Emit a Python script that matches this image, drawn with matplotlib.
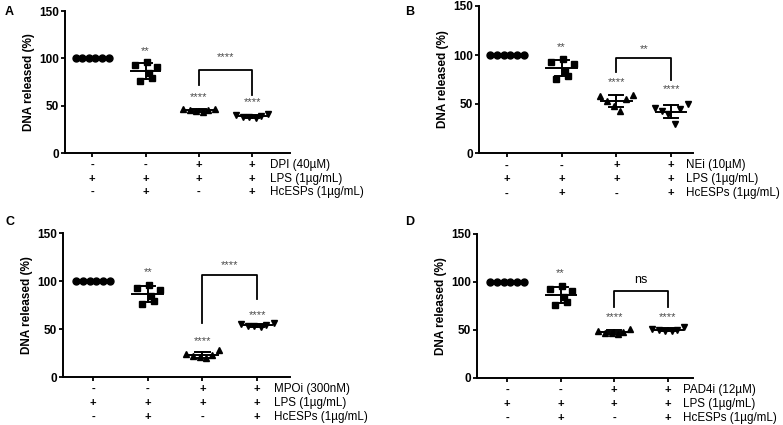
import numpy as np
import matplotlib
matplotlib.use("Agg")
import matplotlib.pyplot as plt
from matplotlib.transforms import blended_transform_factory

plt.rcParams['font.family'] = ['Liberation Sans', 'DejaVu Sans']

# ---- data ----
panels = ["A", "B", "C", "D"]
inhibitors = ["DPI (40µM)", "NEi (10µM)", "MPOi (300nM)", "PAD4i (12µM)"]
row_names = ["LPS (1µg/mL)", "HcESPs (1µg/mL)"]
inhib_signs = ["-", "-", "+", "+"]
lps_signs = ["+", "+", "+", "+"]
esp_signs = ["-", "+", "-", "+"]

ctrl = [100, 100, 100, 100, 100, 100]
esp = [96, 93, 91, 84, 79, 76]
a_inh = [47, 46, 45, 45, 44, 43]
a_both = [41, 40, 39, 38, 38, 37]
b_inh = [59, 58, 55, 53, 48, 43]
b_both = [50, 46, 45, 43, 40, 30]
c_inh = [28, 24, 23, 22, 21, 20]
c_both = [56, 55, 54, 53, 53, 52]
d_inh = [51, 49, 48, 47, 47, 46]
d_both = [53, 51, 50, 50, 49, 49]

group_vals = [
    [ctrl, esp, a_inh, a_both],
    [ctrl, esp, b_inh, b_both],
    [ctrl, esp, c_inh, c_both],
    [ctrl, esp, d_inh, d_both],
]
# significance stars above groups 2-4: (label, y)
stars = [
    [("**", 108), ("****", 59), ("****", 54)],
    [("**", 108), ("****", 72), ("****", 65)],
    [("**", 109), ("****", 37), ("****", 64)],
    [("**", 109), ("****", 63), ("****", 63)],
]
# bracket between groups 3 and 4: (top, left leg end, right leg end, label, label y)
brackets = [
    (88, 72, 61, "****", 101),
    (97, 83, 74, "**", 106),
    (106, 56, 81, "****", 117),
    (91, 74, 74, "ns", 102),
]

# ---- layout (pixels of the 783x425 reference) ----
W, H = 783, 425
axes_px = [  # left, right, top(150), bottom(0), xlim, row-label x
    (65, 290, 11, 153, (-0.51, 3.71), 3.33),
    (479, 693, 6, 153, (-0.51, 3.40), 3.28),
    (63, 290, 233, 377, (-0.55, 3.60), 3.30),
    (477, 693, 234, 378, (-0.56, 3.47), 3.29),
]
letter_px = [(5, 12), (405, 12), (5, 222), (405, 222)]
markers = ["o", "s", "^", "v"]
ctrl_dx = np.array([-0.31, -0.186, -0.062, 0.062, 0.186, 0.31])
esp_dx = np.array([0.02, -0.2, 0.22, 0.06, 0.12, -0.1])
grp_dx = np.array([0.3, -0.3, 0.17, -0.17, -0.05, 0.07])
star_col = '#4a4a4a'

fig = plt.figure(figsize=(W / 100, H / 100), dpi=100)

for i in range(4):
    l, r, t, b, xl, lx = axes_px[i]
    ax = fig.add_axes([l / W, (H - b) / H, (r - l) / W, (b - t) / H])
    for g, vals in enumerate(group_vals[i]):
        vals = np.array(vals, dtype=float)
        dx = ctrl_dx if g == 0 else (esp_dx if g == 1 else grp_dx)
        ax.plot(g + dx, vals, ls='', marker=markers[g], color='black', ms=5, zorder=3)
        if g > 0:
            m, sd = vals.mean(), vals.std(ddof=1)
            ax.plot([g - 0.28, g + 0.28], [m, m], color='black', lw=1.4, zorder=4)
            ax.plot([g, g], [m - sd, m + sd], color='black', lw=1.4, zorder=4)
            for yy in (m - sd, m + sd):
                ax.plot([g - 0.13, g + 0.13], [yy, yy], color='black', lw=1.4, zorder=4)
    for g, (lab, yy) in enumerate(stars[i], start=1):
        ax.text(g, yy, lab, ha='center', va='center', fontsize=8, color=star_col)
    top, ll, rl, lab, ly = brackets[i]
    ax.plot([2, 2, 3, 3], [ll, top, top, rl], color='black', lw=1.3)
    if lab == "ns":
        ax.text(2.5, ly, lab, ha='center', va='center', fontsize=9, color='black')
    else:
        ax.text(2.5, ly, lab, ha='center', va='center', fontsize=8, color=star_col)

    ax.set_xlim(*xl)
    ax.set_ylim(0, 150)
    ax.set_yticks([0, 50, 100, 150])
    ax.set_xticks([0, 1, 2, 3])
    ax.set_xticklabels([])
    ax.tick_params(axis='y', labelsize=8.5, width=1.3, length=3, pad=1.5)
    ax.tick_params(axis='x', width=1.3, length=3)
    for lbl in ax.get_yticklabels():
        lbl.set_fontweight('bold')
    for s in ("top", "right"):
        ax.spines[s].set_visible(False)
    for s in ("left", "bottom"):
        ax.spines[s].set_linewidth(1.4)
    ax.set_ylabel("DNA released (%)", fontsize=8.5, fontweight='bold', labelpad=3)

    tr = blended_transform_factory(ax.transData, ax.transAxes)
    rows = [inhib_signs, lps_signs, esp_signs]
    names = [inhibitors[i]] + row_names
    ys = [-0.085, -0.18, -0.275]
    for signs, name, yy in zip(rows, names, ys):
        for g, s in enumerate(signs):
            ax.text(g, yy, s, transform=tr, ha='center', va='center', fontsize=8, fontweight='bold')
        ax.text(lx, yy, name, transform=tr, ha='left', va='center', fontsize=8.4)

    fig.text(letter_px[i][0] / W, 1 - letter_px[i][1] / H, panels[i],
             ha='left', va='center', fontsize=9, fontweight='bold')

fig.savefig("out.png", dpi=100)
